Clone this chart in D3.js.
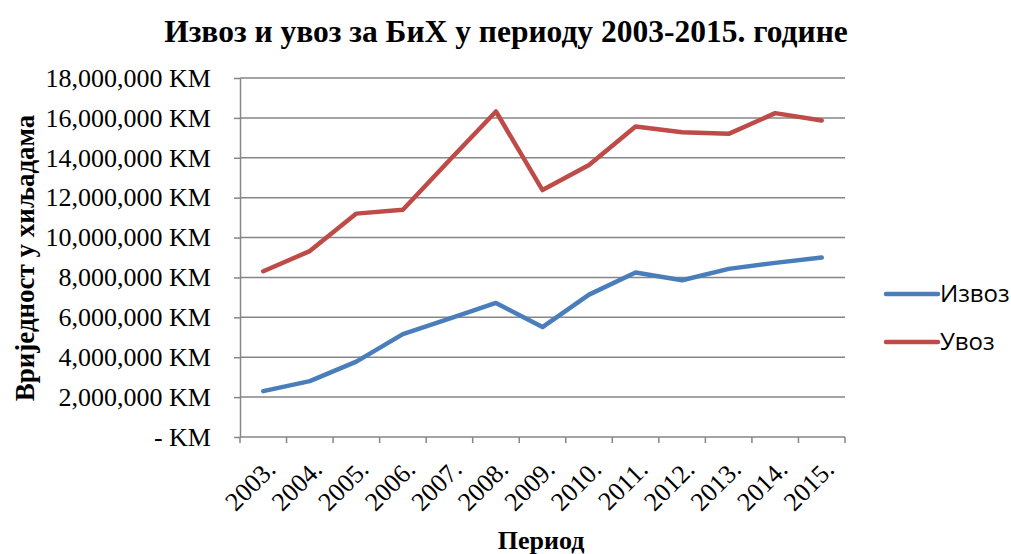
<!DOCTYPE html>
<meta charset="utf-8">
<head>
	<script type="text/javascript" src="https://cdn.jsdelivr.net/npm/d3@7"></script>
	<style>
		body { margin: 0; background: #fff; }
		svg text { fill: #000; }
	</style>
</head>
<body>
	<svg id="chart" width="1011" height="554"></svg>
</body>
<script type="text/javascript">
	// godine
	var years = ["2003.", "2004.", "2005.", "2006.", "2007.", "2008.", "2009.", "2010.", "2011.", "2012.", "2013.", "2014.", "2015."];
	// izvoz i uvoz, u KM
	var izvoz = [2300000, 2800000, 3780000, 5160000, 5930000, 6720000, 5510000, 7140000, 8250000, 7860000, 8430000, 8730000, 9000000];
	var uvoz = [8310000, 9320000, 11200000, 11390000, 13880000, 16320000, 12380000, 13640000, 15570000, 15280000, 15200000, 16240000, 15870000];
	var yTicks = [0, 2000000, 4000000, 6000000, 8000000, 10000000, 12000000, 14000000, 16000000, 18000000];
	var seriesNames = ["Извоз", "Увоз"];
	var colors = ["#4A7EBB", "#BE4B48"];

	var svg = d3.select("#chart");
	var pLeft = 240, pRight = 845, pTop = 78, pBottom = 437;

	var x = d3.scaleBand().domain(years).range([pLeft, pRight]);
	var y = d3.scaleLinear().domain([0, 18000000]).range([pBottom, pTop]);

	//title
	svg.append("text")
		.attr("x", 506).attr("y", 42)
		.attr("text-anchor", "middle")
		.style("font-family", "Liberation Serif").style("font-weight", "bold").style("font-size", "31.5px")
		.text("Извоз и увоз за БиХ у периоду 2003-2015. године");

	//gridlines
	svg.append("g").selectAll("line")
		.data(yTicks.slice(1))
		.enter().append("line")
		.attr("x1", pLeft).attr("x2", pRight)
		.attr("y1", function(d){ return y(d); }).attr("y2", function(d){ return y(d); })
		.attr("stroke", "#868686").attr("stroke-width", 1.5);

	//y axis
	var fmt = d3.format(",");
	var yAxis = svg.append("g")
		.attr("transform", "translate(" + pLeft + ",0)")
		.call(d3.axisLeft(y).tickValues(yTicks).tickSizeInner(6).tickSizeOuter(0).tickPadding(23)
			.tickFormat(function(d){ return d == 0 ? "- KM" : fmt(d) + " KM"; }));
	yAxis.select(".domain").attr("stroke", "#868686").attr("stroke-width", 1.5);
	yAxis.selectAll(".tick line").attr("stroke", "#868686").attr("stroke-width", 1.5);
	yAxis.selectAll("text")
		.style("font-family", "Liberation Serif").style("font-size", "26px").attr("fill", "#000");

	//x axis
	svg.append("line")
		.attr("x1", pLeft).attr("x2", pRight).attr("y1", pBottom).attr("y2", pBottom)
		.attr("stroke", "#868686").attr("stroke-width", 1.5);
	var bounds = years.map(function(d){ return x(d); }).concat([pRight]);
	svg.append("g").selectAll("line")
		.data(bounds)
		.enter().append("line")
		.attr("x1", function(d){ return d; }).attr("x2", function(d){ return d; })
		.attr("y1", pBottom).attr("y2", pBottom + 6)
		.attr("stroke", "#868686").attr("stroke-width", 1.5);
	svg.append("g").selectAll("text")
		.data(years)
		.enter().append("text")
		.attr("transform", function(d){ return "translate(" + (x(d) + x.bandwidth() / 2 + 1) + "," + (pBottom + 21) + ") rotate(-45)"; })
		.attr("text-anchor", "end")
		.attr("dy", "0.7em")
		.style("font-family", "Liberation Serif").style("font-size", "26px")
		.text(function(d){ return d; });

	//axis titles
	svg.append("text")
		.attr("transform", "translate(34,258) rotate(-90)")
		.attr("text-anchor", "middle")
		.style("font-family", "Liberation Serif").style("font-weight", "bold").style("font-size", "27px")
		.text("Вриједност у хиљадама");
	svg.append("text")
		.attr("x", 541).attr("y", 549)
		.attr("text-anchor", "middle")
		.style("font-family", "Liberation Serif").style("font-weight", "bold").style("font-size", "26px")
		.text("Период");

	//lines
	var line = d3.line()
		.x(function(d, i){ return x(years[i]) + x.bandwidth() / 2; })
		.y(function(d){ return y(d); });
	[izvoz, uvoz].forEach(function(s, i){
		svg.append("path")
			.attr("d", line(s))
			.attr("fill", "none")
			.attr("stroke", colors[i]).attr("stroke-width", 4.5)
			.attr("stroke-linejoin", "round").attr("stroke-linecap", "round");
	});

	//legend
	var lg = svg.append("g").selectAll("g")
		.data(seriesNames)
		.enter().append("g")
		.attr("transform", function(d, i){ return "translate(886," + (294 + i * 48) + ")"; });
	lg.append("line")
		.attr("x1", 0).attr("x2", 52)
		.attr("stroke", function(d, i){ return colors[i]; }).attr("stroke-width", 4.5)
		.attr("stroke-linecap", "round");
	lg.append("text")
		.attr("x", 54).attr("dy", "0.35em")
		.style("font-family", "Open Sans").style("font-size", "24px")
		.text(function(d){ return d; });
</script>
